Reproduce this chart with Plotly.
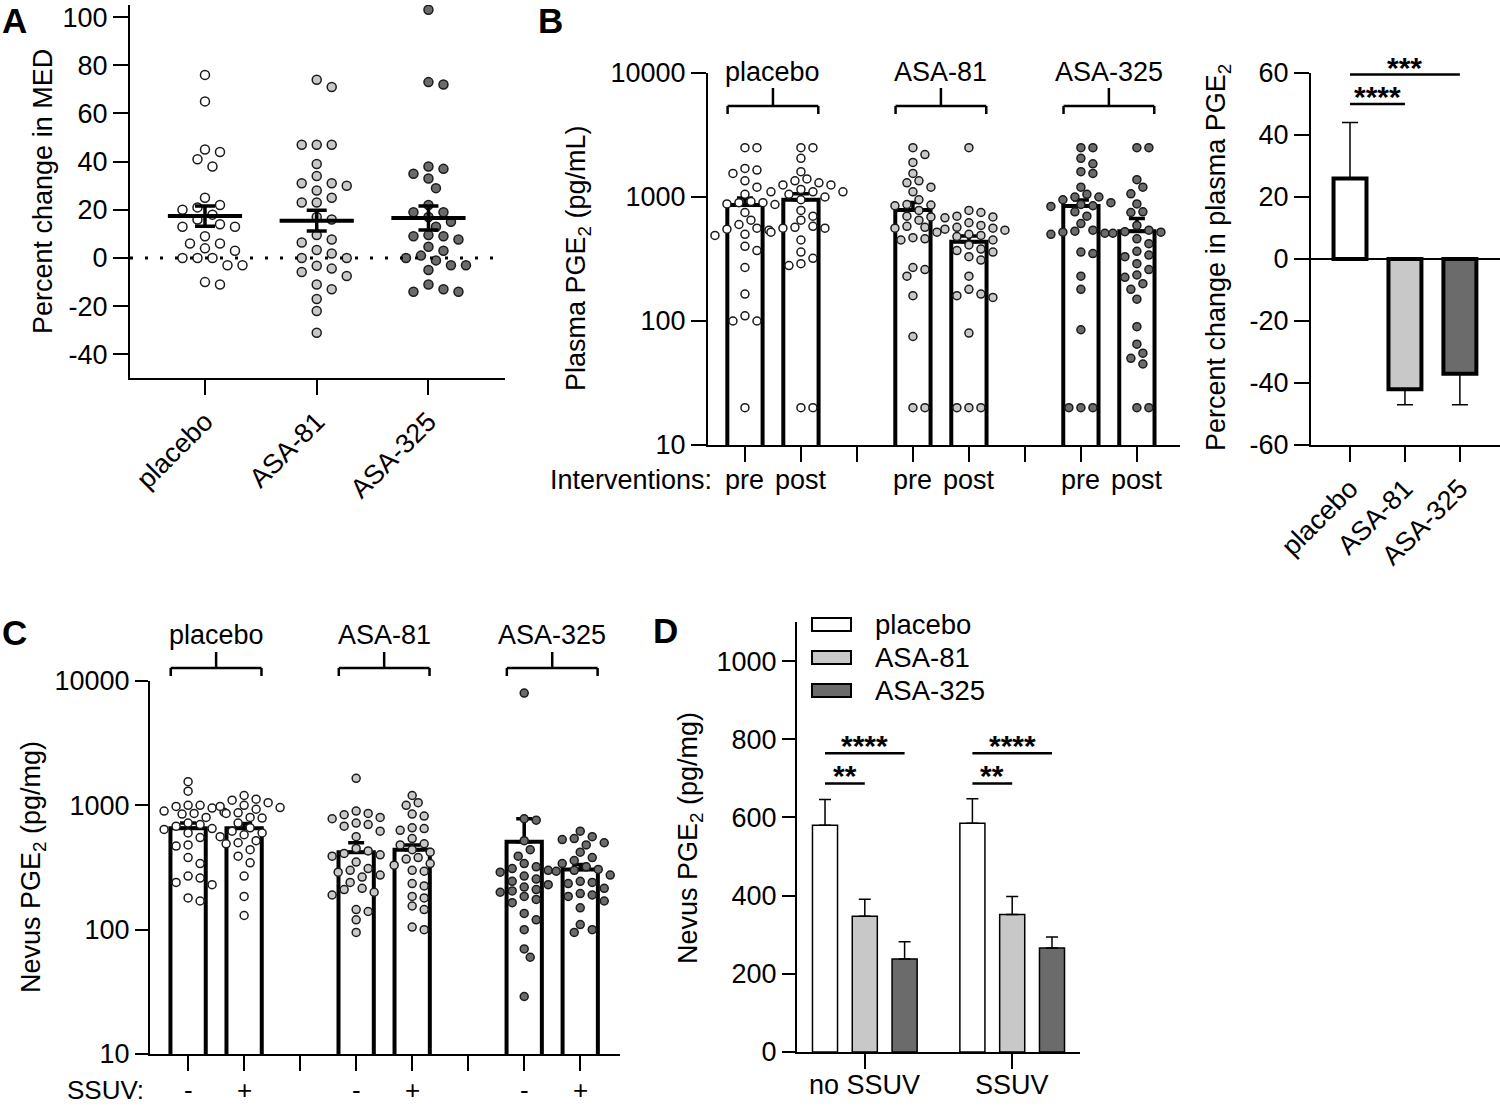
import math
import plotly.graph_objects as go

W, H = 1500, 1106
FONT = "Liberation Sans, Arial, sans-serif"
FS = 27

groups = ["placebo", "ASA-81", "ASA-325"]
group_fill = ["#ffffff", "#c8c8c8", "#6b6b6b"]

# ---------------- Panel A: percent change in MED ----------------
med_placebo = [76, 65, 45, 44, 41, 38, 25, 22, 21, 20, 18, 16, 14, 13, 13, 9, 6, 6, 4, 3,
               0, 0, 0, -3, -3, -10, -11]
med_asa81 = [74, 71, 47, 47, 47, 39, 34, 31, 31, 30, 28, 25, 23, 23, 17, 16, 9.5, 7.7, 6.4,
             3.3, 1.9, 0, 0, -3.2, -4.4, -5.8, -7.5, -11, -13, -17, -22, -31]
med_asa325 = [103, 73, 72, 38, 37, 35, 33, 29, 22, 19, 19, 17, 15, 13, 9.5, 9, 9, 7.7, 4.7,
              3, 1, 0, -1, -3, -3, -5, -11, -13, -14, -14]
med_mean = [17.4, 15.5, 16.6]
med_sem = [4.2, 4.3, 5.0]
med_ticks = [-40, -20, 0, 20, 40, 60, 80, 100]

# ---------------- Panel B (left): plasma PGE2 pre / post ----------------
plasma_labels = ["pre", "post"]
plasma_placebo_pre = [2500, 2500, 1700, 1650, 1550, 1350, 1200, 1050, 920, 900, 900, 880, 870,
                      750, 650, 600, 560, 550, 540, 500, 490, 400, 370, 270, 165, 110, 100, 100, 20]
plasma_placebo_post = [2500, 2500, 2050, 1600, 1400, 1350, 1300, 1250, 1250, 1150, 1100, 1100,
                       1100, 1050, 1000, 950, 780, 700, 650, 580, 570, 560, 560, 520, 450, 360,
                       320, 290, 280, 20, 20]
plasma_asa81_pre = [2500, 2200, 1900, 1550, 1350, 1300, 1200, 1100, 950, 870, 860, 850, 780, 700,
                    690, 650, 580, 570, 560, 520, 470, 460, 450, 270, 260, 230, 160, 75, 20, 20]
plasma_asa81_post = [2500, 780, 750, 700, 690, 680, 620, 590, 570, 560, 550, 540, 500, 490, 480,
                     450, 410, 380, 370, 360, 330, 310, 230, 180, 165, 160, 155, 80, 20, 20, 20]
plasma_asa325_pre = [2500, 2500, 2050, 1850, 1600, 1550, 1200, 1050, 1000, 1000, 950, 900, 870,
                     850, 840, 760, 700, 610, 540, 530, 520, 510, 500, 360, 350, 230, 180, 85,
                     20, 20, 20]
plasma_asa325_post = [2500, 2500, 1380, 1200, 1060, 880, 760, 750, 590, 540, 525, 520, 510, 460,
                      420, 365, 340, 330, 290, 260, 235, 225, 200, 180, 150, 90, 65, 55, 50, 45,
                      20, 20]
plasma_mean = [860, 950, 785, 435, 845, 530]
plasma_sem = [120, 110, 120, 50, 100, 140]

# ---------------- Panel B (right): percent change in plasma PGE2 ----------------
pct_mean = [26, -42, -37]
pct_sem = [18, 5, 10]
pct_sig = [(0, 1, "****"), (0, 2, "***")]
pct_ticks = [-60, -40, -20, 0, 20, 40, 60]

# ---------------- Panel C: nevus PGE2 by SSUV ----------------
ssuv_labels = ["-", "+"]
nevus_placebo_no = [1550, 1300, 1000, 1000, 980, 950, 900, 880, 860, 850, 800, 720, 700, 680,
                    650, 640, 600, 550, 480, 470, 380, 340, 270, 260, 240, 230, 180, 170]
nevus_placebo_uv = [1200, 1120, 1100, 1050, 1000, 980, 960, 930, 870, 860, 800, 790, 720, 660,
                    620, 600, 580, 560, 520, 500, 490, 440, 390, 345, 270, 185, 130]
nevus_asa81_no = [1650, 900, 860, 840, 800, 780, 720, 700, 680, 620, 560, 450, 430, 410, 400,
                  390, 350, 310, 300, 290, 275, 265, 240, 215, 210, 200, 190, 145, 140, 120, 95]
nevus_asa81_uv = [1200, 1050, 1000, 850, 820, 660, 650, 630, 540, 490, 480, 440, 420, 380, 370,
                  340, 330, 300, 295, 235, 225, 185, 180, 155, 145, 105, 100]
nevus_asa325_no = [8000, 780, 760, 520, 440, 390, 340, 320, 310, 300, 290, 270, 255, 245, 230,
                   220, 210, 205, 200, 185, 175, 165, 135, 120, 100, 70, 60, 29]
nevus_asa325_uv = [620, 560, 540, 530, 500, 480, 420, 380, 360, 340, 320, 305, 300, 295, 275,
                   245, 240, 235, 215, 195, 190, 185, 170, 150, 110, 100, 95]
nevus_mean = [655, 655, 420, 440, 510, 305]
nevus_sem = [65, 60, 80, 40, 270, 30]

# ---------------- Panel D: nevus PGE2 grouped ----------------
d_categories = ["no SSUV", "SSUV"]
d_mean = {"placebo": [580, 585], "ASA-81": [347, 352], "ASA-325": [238, 266]}
d_sem = {"placebo": [66, 63], "ASA-81": [44, 46], "ASA-325": [44, 28]}
d_sig = [("ASA-81", "**"), ("ASA-325", "****")]
d_ticks = [0, 200, 400, 600, 800, 1000]
log_ticks = [10, 100, 1000, 10000]

# ====================== layout geometry (pixel boxes) ======================
AX = {
    "A":  dict(x=(130, 505), y=(5, 378), xr=[-0.671, 2.685], yr=[-49.8, 105]),
    "B1": dict(x=(708, 1180), y=(73, 445), xr=[-0.66, 7.77], yr=[1, 4]),
    "B2": dict(x=(1311, 1500), y=(73, 445), xr=[-0.71, 2.73], yr=[-60, 60]),
    "C":  dict(x=(150, 620), y=(681, 1054), xr=[-0.68, 7.71], yr=[1, 4]),
    "D":  dict(x=(797, 1080), y=(622, 1052), xr=[-0.46, 1.46], yr=[0, 1100]),
}
AXID = {"A": "", "B1": "2", "B2": "3", "C": "4", "D": "5"}


def ppu_x(k):
    a = AX[k]
    return (a["x"][1] - a["x"][0]) / (a["xr"][1] - a["xr"][0])


def ppu_y(k):
    a = AX[k]
    return (a["y"][1] - a["y"][0]) / (a["yr"][1] - a["yr"][0])


def px_x(k, v):  # data x -> paper fraction
    a = AX[k]
    f = (v - a["xr"][0]) / (a["xr"][1] - a["xr"][0])
    return (a["x"][0] + f * (a["x"][1] - a["x"][0])) / W


def swarm(vals, k, log=False, step=14.0, d=11.0):
    yscale = ppu_y(k)
    ys = [(math.log10(v) if log else v) * yscale for v in vals]
    order = sorted(range(len(vals)), key=lambda i: -ys[i])
    cands = [0.0]
    for j in range(1, 40):
        cands += [j * step / 2, -j * step / 2]
    placed = []
    offs = [0.0] * len(vals)
    for i in order:
        c = 0.0
        for c in cands:
            if all((c - px) ** 2 + (ys[i] - py) ** 2 >= d * d for px, py in placed):
                break
        placed.append((c, ys[i]))
        offs[i] = c / ppu_x(k)
    return offs


fig = go.Figure()


def axrefs(k):
    s = AXID[k]
    return "x" + s, "y" + s


# ---------- Panel A ----------
xa, ya = axrefs("A")
for gi, vals in enumerate([med_placebo, med_asa81, med_asa325]):
    offs = swarm(vals, "A", step=15, d=11)
    fig.add_trace(go.Scatter(
        x=[gi + o for o in offs], y=vals, mode="markers", xaxis=xa, yaxis=ya,
        marker=dict(size=9, color=group_fill[gi], line=dict(color="#1a1a1a", width=1.5)),
        showlegend=False, hoverinfo="skip"))
fig.add_trace(go.Scatter(
    x=[0, 1, 2], y=med_mean, mode="markers", xaxis=xa, yaxis=ya,
    marker=dict(symbol="line-ew", size=53, line=dict(color="black", width=4)),
    error_y=dict(type="data", array=med_sem, color="black", thickness=3.5, width=10),
    showlegend=False, hoverinfo="skip"))

# ---------- Panel B1 and C (bars + dots on log axes) ----------
pair_pos = [0, 1, 3, 4, 6, 7]
sep_pos = [2, 5]


def log_bar_panel(k, means, sems, series):
    xr_, yr_ = axrefs(k)
    fig.add_trace(go.Bar(
        x=pair_pos, y=means, width=0.63, xaxis=xr_, yaxis=yr_,
        marker=dict(color="white", line=dict(color="black", width=4)),
        error_y=dict(type="data", symmetric=False, array=sems, arrayminus=[0] * len(sems),
                     color="black", thickness=3.5, width=8),
        showlegend=False, hoverinfo="skip"))
    for si, vals in enumerate(series):
        offs = swarm(vals, k, log=True, step=12, d=9.2)
        fig.add_trace(go.Scatter(
            x=[pair_pos[si] + o for o in offs], y=vals, mode="markers", xaxis=xr_, yaxis=yr_,
            marker=dict(size=8, color=group_fill[si // 2], line=dict(color="#1a1a1a", width=1.5)),
            showlegend=False, hoverinfo="skip"))


log_bar_panel("B1", plasma_mean, plasma_sem,
              [plasma_placebo_pre, plasma_placebo_post, plasma_asa81_pre, plasma_asa81_post,
               plasma_asa325_pre, plasma_asa325_post])
log_bar_panel("C", nevus_mean, nevus_sem,
              [nevus_placebo_no, nevus_placebo_uv, nevus_asa81_no, nevus_asa81_uv,
               nevus_asa325_no, nevus_asa325_uv])

# ---------- Panel B2 ----------
xb, yb = axrefs("B2")
fig.add_trace(go.Bar(
    x=[0, 1, 2], y=pct_mean, width=0.6, xaxis=xb, yaxis=yb,
    marker=dict(color=group_fill, line=dict(color="black", width=4)),
    error_y=dict(type="data", symmetric=False,
                 array=[s if m > 0 else 0 for m, s in zip(pct_mean, pct_sem)],
                 arrayminus=[s if m < 0 else 0 for m, s in zip(pct_mean, pct_sem)],
                 color="black", thickness=1.5, width=8),
    showlegend=False, hoverinfo="skip"))

# ---------- Panel D ----------
xd, yd = axrefs("D")
d_shift = {"placebo": -0.27, "ASA-81": 0.0, "ASA-325": 0.27}
for gi, g in enumerate(groups):
    fig.add_trace(go.Bar(
        x=[c + d_shift[g] for c in range(len(d_categories))], y=d_mean[g], width=0.17,
        xaxis=xd, yaxis=yd,
        marker=dict(color=group_fill[gi], line=dict(color="black", width=1.5)),
        error_y=dict(type="data", symmetric=False, array=d_sem[g],
                     arrayminus=[0] * len(d_sem[g]), color="black", thickness=1.5, width=6),
        showlegend=False, hoverinfo="skip"))

# ====================== axes ======================
base = dict(showline=True, linecolor="black", linewidth=2, ticks="outside", tickcolor="black",
            tickwidth=2, showgrid=False, zeroline=False, automargin=False,
            tickfont=dict(family=FONT, size=FS, color="black"), fixedrange=True)


def set_axes(k, xopts, yopts):
    a = AX[k]
    s = AXID[k]
    xo = dict(base, domain=[a["x"][0] / W, a["x"][1] / W], range=a["xr"], anchor="y" + s)
    xo.update(xopts)
    yo = dict(base, domain=[1 - a["y"][1] / H, 1 - a["y"][0] / H], range=a["yr"], anchor="x" + s)
    yo.update(yopts)
    fig.update_layout(**{"xaxis" + s: xo, "yaxis" + s: yo})


sep_minor = dict(tickvals=sep_pos, ticks="outside", ticklen=15, tickwidth=2, tickcolor="black")

set_axes("A",
         dict(tickvals=[0, 1, 2], ticktext=groups, tickangle=-45, ticklen=15),
         dict(tickvals=med_ticks, ticktext=[str(t) for t in med_ticks], ticklen=15))
set_axes("B1",
         dict(tickvals=pair_pos, showticklabels=False, ticklen=15, minor=sep_minor),
         dict(type="log", tickvals=log_ticks, ticktext=[str(t) for t in log_ticks], ticklen=15))
set_axes("B2",
         dict(tickvals=[0, 1, 2], ticktext=groups, tickangle=-45, ticklen=15),
         dict(tickvals=pct_ticks, ticktext=[str(t) for t in pct_ticks], ticklen=15,
              zeroline=True, zerolinecolor="black", zerolinewidth=2))
set_axes("C",
         dict(tickvals=pair_pos, showticklabels=False, ticklen=15, minor=sep_minor),
         dict(type="log", tickvals=log_ticks, ticktext=[str(t) for t in log_ticks], ticklen=13))
set_axes("D",
         dict(tickvals=[0, 1], showticklabels=False, ticklen=15),
         dict(tickvals=d_ticks, ticktext=[str(t) for t in d_ticks], ticklen=13))

# ====================== decorations ======================
shapes = []
annotations = []


def text(x, y, s, size=FS, xanchor="center", yanchor="middle", angle=0, bold=False,
         xref="paper", yref="paper", yshift=0):
    annotations.append(dict(
        x=x, y=y, xref=xref, yref=yref, text=("<b>%s</b>" % s) if bold else s,
        showarrow=False, xanchor=xanchor, yanchor=yanchor, textangle=angle, yshift=yshift,
        font=dict(family=FONT, size=size, color="black")))


def pline(x0, y0, x1, y1, w=2.5):
    shapes.append(dict(type="line", xref="paper", yref="paper", x0=x0, y0=y0, x1=x1, y1=y1,
                       line=dict(color="black", width=w)))


# panel letters
text(0 / W, 1 - 21 / H, "A", size=35, xanchor="left", bold=True)
text(536 / W, 1 - 21 / H, "B", size=35, xanchor="left", bold=True)
text(0 / W, 1 - 632 / H, "C", size=35, xanchor="left", bold=True)
text(651 / W, 1 - 630 / H, "D", size=35, xanchor="left", bold=True)

# y-axis titles
text(43 / W, 1 - 192 / H, "Percent change in MED", angle=-90)
text(578 / W, 1 - 258 / H, "Plasma PGE<sub>2</sub> (pg/mL)", angle=-90)
text(1218 / W, 1 - 258 / H, "Percent change in plasma PGE<sub>2</sub>", angle=-90)
text(33 / W, 1 - 867 / H, "Nevus PGE<sub>2</sub> (pg/mg)", angle=-90)
text(690 / W, 1 - 838 / H, "Nevus PGE<sub>2</sub> (pg/mg)", angle=-90)

# category labels under the bar axes
text(714 / W, 1 - 480 / H, "Interventions:", xanchor="right")
for i, p in enumerate(pair_pos):
    text(p, 1 - 480 / H, plasma_labels[i % 2], xref="x2", yref="paper")
text(146 / W, 1 - 1090 / H, "SSUV:", size=26, xanchor="right")
for i, p in enumerate(pair_pos):
    text(p, 1 - 1090 / H, ssuv_labels[i % 2], size=26, xref="x4", yref="paper")
for c, lab in enumerate(d_categories):
    text(c, 1 - 1085 / H, lab, xref="x5", yref="paper")

# zero reference line in panel A
shapes.append(dict(type="line", xref="x domain", yref="y", x0=0, x1=1, y0=0, y1=0,
                   line=dict(color="black", width=3, dash="3px,12px")))


# group brackets for B1 and C
def brackets(k, label_y, stem_top, bar_y, tick_bot):
    for gi, g in enumerate(groups):
        p0, p1 = pair_pos[2 * gi], pair_pos[2 * gi + 1]
        xl, xr_, xm = px_x(k, p0 - 0.31), px_x(k, p1 + 0.31), px_x(k, (p0 + p1) / 2)
        pline(xl, 1 - bar_y / H, xr_, 1 - bar_y / H)
        pline(xl, 1 - bar_y / H, xl, 1 - tick_bot / H)
        pline(xr_, 1 - bar_y / H, xr_, 1 - tick_bot / H)
        pline(xm, 1 - bar_y / H, xm, 1 - stem_top / H)
        text(xm, 1 - label_y / H, g)


brackets("B1", 72, 88, 106, 114)
brackets("C", 635, 652, 668, 676)

# significance bars in B2
for (i0, i1, s), yv in zip(pct_sig, [50, 59.5]):
    shapes.append(dict(type="line", xref=xb, yref=yb, x0=i0, x1=i1, y0=yv, y1=yv,
                       line=dict(color="black", width=2.5)))
    text((i0 + i1) / 2, yv, s, size=30, bold=True, xref=xb, yref=yb, yanchor="bottom",
         yshift=-11)

# significance bars in D
for c in range(len(d_categories)):
    for (g, s), yv in zip(d_sig, [687, 764]):
        x0, x1 = c + d_shift["placebo"], c + d_shift[g]
        shapes.append(dict(type="line", xref=xd, yref=yd, x0=x0, x1=x1, y0=yv, y1=yv,
                           line=dict(color="black", width=2.5)))
        text((x0 + x1) / 2, yv, s, size=30, bold=True, xref=xd, yref=yd, yanchor="bottom",
             yshift=-11)

# custom legend for D
for gi, (g, ytop) in enumerate(zip(groups, [618, 651, 684])):
    shapes.append(dict(type="rect", xref="paper", yref="paper",
                       x0=812 / W, x1=851 / W, y0=1 - (ytop + 13) / H, y1=1 - ytop / H,
                       fillcolor=group_fill[gi], line=dict(color="black", width=2)))
    text(873 / W, 1 - (ytop + 6.5) / H, g, size=27.5, xanchor="left")

fig.update_layout(
    width=W, height=H, margin=dict(l=0, r=0, t=0, b=0),
    paper_bgcolor="white", plot_bgcolor="rgba(0,0,0,0)",
    barmode="overlay", showlegend=False,
    font=dict(family=FONT, size=FS, color="black"),
    shapes=shapes, annotations=annotations)

fig.write_html("out.html", config={"displayModeBar": False},
               post_script="document.body.style.margin='0px';")
